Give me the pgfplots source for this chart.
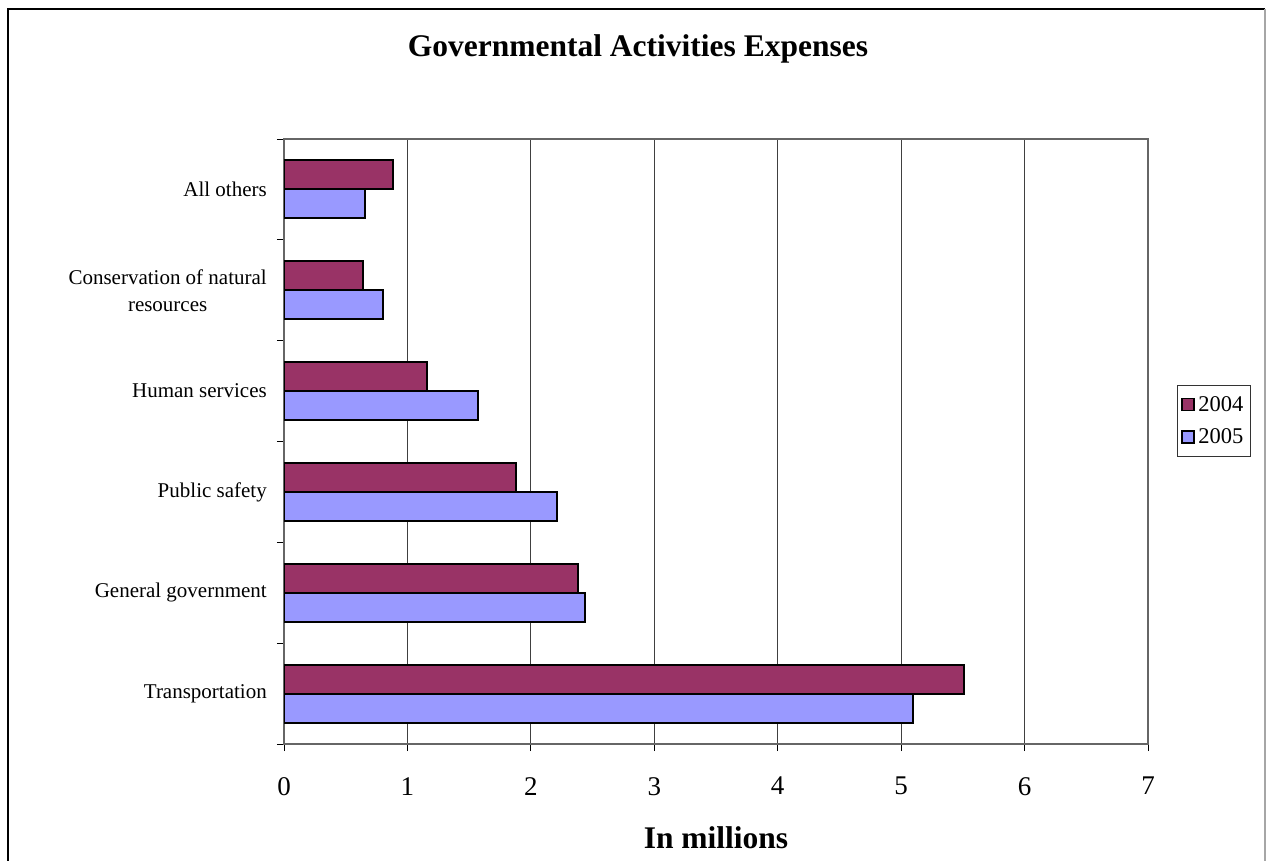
\documentclass[border=0pt]{standalone}
\usepackage{fontspec}
\setmainfont{Liberation Serif}
\usepackage{pgfplots}
\pgfplotsset{compat=1.18}
\definecolor{c2004}{HTML}{993366}
\definecolor{c2005}{HTML}{9999FF}
\begin{document}
\begin{tikzpicture}[x=1pt,y=1pt]
\useasboundingbox (0,0) rectangle (1267,-861);
\draw[black,line width=1.2pt] (8,-880) -- (8,-9) -- (1265,-9);
\draw[gray!70,line width=1.2pt] (1265,-9) -- (1265,-880);
\begin{axis}[
  at={(284pt,-744pt)}, anchor=south west,
  scale only axis, width=864pt, height=605pt,
  xmin=0, xmax=7, ymin=-0.5, ymax=5.5,
  xtick={0,...,7},
  ytick={0,...,5},
  xtick pos=bottom, ytick pos=left,
  yticklabels={Transportation,General government,Public safety,Human services,{Conservation of natural\\resources},All others},
  minor ytick={-0.5,0.5,...,5.5},
  tick align=outside,
  major tick length=7pt,
  minor tick length=7pt,
  y tick style={draw=none},
  minor y tick style={draw=black,line width=0.8pt},
  x tick style={black,line width=0.8pt},
  xmajorgrids, grid style={black!75,line width=0.8pt},
  axis line style={gray!80!black,line width=1.4pt},
  /pgf/number format/assume math mode=true,
  xticklabel style={font=\fontsize{27}{32}\selectfont, inner sep=0pt, yshift=-26pt},
  yticklabel style={font=\fontsize{21}{27}\selectfont, align=center, inner sep=0pt, xshift=-10pt},
  title={\textbf{Governmental Activities Expenses}},
  title style={font=\fontsize{31.5}{36}\selectfont, at={(axis description cs:0.4097,1.1388)}, anchor=center, inner sep=0pt},
  xlabel={\textbf{In millions}},
  xlabel style={font=\fontsize{31.5}{36}\selectfont, at={(axis description cs:0.5,-0.155)}, anchor=center, inner sep=0pt},
  xbar, bar width=29pt,
  legend style={at={(1.0336,0.534)}, anchor=west, draw=black!80, line width=0.8pt, font=\fontsize{22.5}{27}\selectfont, inner xsep=4pt, inner ysep=3pt, cells={anchor=west}, nodes={inner ysep=8pt, inner xsep=3.5pt}},
  legend image code/.code={\draw[#1,line width=1.4pt] (0pt,-6pt) rectangle (12pt,6pt);},
]
\addplot[fill=c2004, draw=black, line width=2pt, bar shift=14.5pt] coordinates {
 (5.51,0) (2.38,1) (1.88,2) (1.16,3) (0.64,4) (0.88,5)};
\addplot[fill=c2005, draw=black, line width=2pt, bar shift=-14.5pt] coordinates {
 (5.10,0) (2.44,1) (2.21,2) (1.57,3) (0.80,4) (0.66,5)};
\legend{2004,2005}
\end{axis}
\end{tikzpicture}
\end{document}
